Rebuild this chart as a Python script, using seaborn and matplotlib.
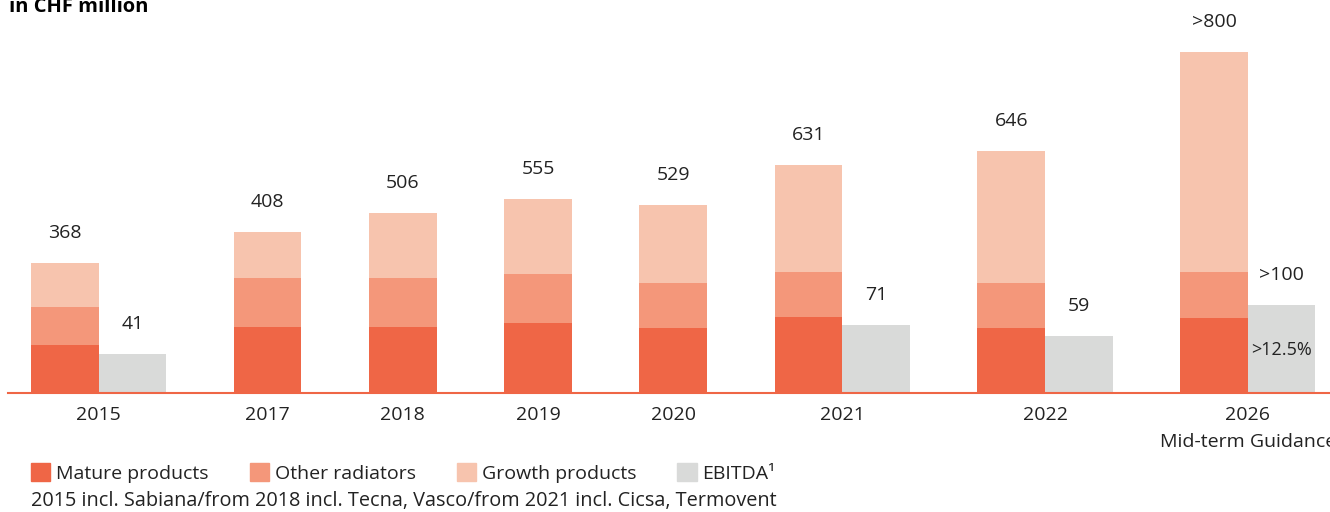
import pandas as pd
import numpy as np
import matplotlib.pyplot as plt
import seaborn as sns
from matplotlib.patches import Patch

sns.set_theme(style="white")
plt.rcParams["font.family"] = ["Open Sans", "DejaVu Sans"]

# === DATA (segment heights as drawn in the reference, which is not to scale) ===
years = ["2015", "2017", "2018", "2019", "2020", "2021", "2022", "2026"]
mature = [113, 155, 155, 164, 153, 178, 153, 176]
other_rad = [89, 115, 115, 115, 106, 106, 106, 108]
growth = [103, 108, 153, 176, 181, 251, 308, 516]
ebitda = [92, None, None, None, None, 160, 134, 207]
total_labels = ["368", "408", "506", "555", "529", "631", "646", ">800"]
ebitda_labels = ["41", None, None, None, None, "71", "59", ">100"]
tick_labels = ["2015", "2017", "2018", "2019", "2020", "2021", "2022",
               "2026\nMid-term Guidance"]

C_MATURE = "#EF6646"
C_OTHER = "#F4977A"
C_GROWTH = "#F7C4AE"
C_EBITDA = "#D9DAD9"
TXT = "#222222"

# bar slots: stacked bar at p, EBITDA bar right next to it, one empty slot between groups
pos, epos, centers = [], [], []
p = 0
for e in ebitda:
    pos.append(p)
    if e is not None:
        epos.append(p + 1)
        centers.append(p + 0.5)
        p += 3
    else:
        centers.append(p)
        p += 2
n_slots = p

df = pd.DataFrame({"pos": pos, "mature": mature, "other": other_rad, "growth": growth})
df["c2"] = df["mature"] + df["other"]
df["c3"] = df["c2"] + df["growth"]
edf = pd.DataFrame({"pos": epos, "ebitda": [e for e in ebitda if e is not None]})

fig = plt.figure(figsize=(13.3, 5.12), dpi=100)
ax = fig.add_axes([0, 119 / 512, 1, 393 / 512])

order = list(range(n_slots))
common = dict(order=order, width=1, saturation=1, errorbar=None, linewidth=0, ax=ax)
# stacked look: draw cumulative totals from tallest to shortest
sns.barplot(data=df, x="pos", y="c3", color=C_GROWTH, **common)
sns.barplot(data=df, x="pos", y="c2", color=C_OTHER, **common)
sns.barplot(data=df, x="pos", y="mature", color=C_MATURE, **common)
sns.barplot(data=edf, x="pos", y="ebitda", color=C_EBITDA, **common)

# value labels
for x, top, lab in zip(df["pos"], df["c3"], total_labels):
    ax.annotate(lab, (x, top), xytext=(0, 30), textcoords="offset pixels",
                ha="center", va="center", fontsize=14, color=TXT)
for x, top, lab in zip(edf["pos"], edf["ebitda"], [l for l in ebitda_labels if l]):
    ax.annotate(lab, (x, top), xytext=(0, 30), textcoords="offset pixels",
                ha="center", va="center", fontsize=14, color=TXT)
ax.annotate(">12.5%", (edf["pos"].iloc[-1], 0), xytext=(0, 43),
            textcoords="offset pixels", ha="center", va="center",
            fontsize=13, color=TXT)

unit = 67.6
ax.set_xlim(-0.5 - 31 / unit, -0.5 + 1299 / unit)
ax.set_ylim(0, 922)
ax.set_xticks(centers)
ax.set_xticklabels(tick_labels, fontsize=14, color=TXT, linespacing=1.7)
ax.tick_params(axis="x", length=0, pad=9)
ax.set_yticks([])
ax.set_xlabel("")
ax.set_ylabel("")
for s in ["top", "right", "left"]:
    ax.spines[s].set_visible(False)
ax.spines["bottom"].set_color(C_MATURE)
ax.spines["bottom"].set_linewidth(1.5)
ax.spines["bottom"].set_bounds(-0.5 - 23 / unit, -0.5 + 1299 / unit)

fig.text(9 / 1330, 500 / 512, "in CHF million", fontsize=14.5, fontweight="bold",
         color="black", va="baseline", ha="left")

handles = [Patch(color=C_MATURE, label="Mature products"),
           Patch(color=C_OTHER, label="Other radiators"),
           Patch(color=C_GROWTH, label="Growth products"),
           Patch(color=C_EBITDA, label="EBITDA¹")]
leg = fig.legend(handles=handles, loc="center left", bbox_to_anchor=(31 / 1330, 39 / 512),
                 ncol=4, frameon=False, fontsize=14, handlelength=1.0, handleheight=1.0,
                 handletextpad=0.3, columnspacing=2.1, borderpad=0, borderaxespad=0)
for t in leg.get_texts():
    t.set_color(TXT)

fig.text(31 / 1330, 11 / 512,
         "2015 incl. Sabiana/from 2018 incl. Tecna, Vasco/from 2021 incl. Cicsa, Termovent",
         fontsize=14.3, color=TXT, va="center", ha="left")

fig.savefig("out.png", dpi=100)
